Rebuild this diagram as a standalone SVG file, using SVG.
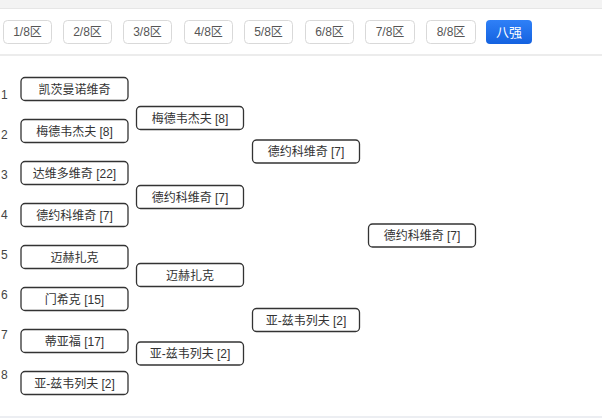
<svg xmlns="http://www.w3.org/2000/svg" width="602" height="418" viewBox="0 0 602 418">
<defs>
<linearGradient id="blue" x1="0" y1="0" x2="0" y2="1">
<stop offset="0" stop-color="#2f80f7"/>
<stop offset="1" stop-color="#1462e0"/>
</linearGradient>
</defs>
<style>
text{font-family:"Liberation Sans","Noto Sans CJK SC",sans-serif;font-size:12px}
.tab rect{fill:#fff;stroke:#d9d9d9;stroke-width:1}
.tab text{fill:#555;text-anchor:middle}
.node rect{fill:#fff;stroke:#333;stroke-width:1.3}
.node text{fill:#333;text-anchor:middle}
.num{fill:#444}
</style>
<rect x="0" y="0" width="602" height="418" fill="#fff"/>
<rect x="0" y="0" width="602" height="8" fill="#f3f3f3"/>
<line x1="0" y1="8.5" x2="602" y2="8.5" stroke="#e6e6e6"/>
<rect x="0" y="54" width="602" height="2" fill="#ececec"/>
<rect x="0" y="416" width="602" height="2" fill="#eceef2"/>

<g id="tabs">
<g class="tab" id="tab1"><rect x="3.5" y="20.5" width="48" height="23" rx="4"/><text x="27.5" y="36">1/8区</text></g>
<g class="tab" id="tab2"><rect x="63.5" y="20.5" width="48" height="23" rx="4"/><text x="87.5" y="36">2/8区</text></g>
<g class="tab" id="tab3"><rect x="123.5" y="20.5" width="48" height="23" rx="4"/><text x="147.5" y="36">3/8区</text></g>
<g class="tab" id="tab4"><rect x="184.5" y="20.5" width="48" height="23" rx="4"/><text x="208.5" y="36">4/8区</text></g>
<g class="tab" id="tab5"><rect x="244.5" y="20.5" width="48" height="23" rx="4"/><text x="268.5" y="36">5/8区</text></g>
<g class="tab" id="tab6"><rect x="305.5" y="20.5" width="48" height="23" rx="4"/><text x="329.5" y="36">6/8区</text></g>
<g class="tab" id="tab7"><rect x="365.5" y="20.5" width="49" height="23" rx="4"/><text x="390" y="36">7/8区</text></g>
<g class="tab" id="tab8"><rect x="426.5" y="20.5" width="49" height="23" rx="4"/><text x="451" y="36">8/8区</text></g>
<g id="tab-final"><rect x="486" y="20" width="46" height="24" rx="4" fill="url(#blue)"/><text x="509" y="36.5" fill="#fff" text-anchor="middle" style="font-size:13px">八强</text></g>
</g>

<g id="seeds">
<text class="num" x="1" y="99">1</text>
<text class="num" x="1" y="139">2</text>
<text class="num" x="1" y="179">3</text>
<text class="num" x="1" y="219">4</text>
<text class="num" x="1" y="259">5</text>
<text class="num" x="1" y="299">6</text>
<text class="num" x="1" y="339">7</text>
<text class="num" x="1" y="379">8</text>
</g>

<g id="connectors"></g>

<g class="node" id="r1-1"><rect x="21" y="77.5" width="107" height="23" rx="4"/><text x="74.5" y="93.5">凯茨曼诺维奇</text></g>
<g class="node" id="r1-2"><rect x="21" y="119.5" width="107" height="23" rx="4"/><text x="74.5" y="135.5">梅德韦杰夫 [8]</text></g>
<g class="node" id="r1-3"><rect x="21" y="161.5" width="107" height="23" rx="4"/><text x="74.5" y="177.5">达维多维奇 [22]</text></g>
<g class="node" id="r1-4"><rect x="21" y="203.5" width="107" height="23" rx="4"/><text x="74.5" y="219.5">德约科维奇 [7]</text></g>
<g class="node" id="r1-5"><rect x="21" y="245.5" width="107" height="23" rx="4"/><text x="74.5" y="261.5">迈赫扎克</text></g>
<g class="node" id="r1-6"><rect x="21" y="287.5" width="107" height="23" rx="4"/><text x="74.5" y="303.5">门希克 [15]</text></g>
<g class="node" id="r1-7"><rect x="21" y="329.5" width="107" height="23" rx="4"/><text x="74.5" y="345.5">蒂亚福 [17]</text></g>
<g class="node" id="r1-8"><rect x="21" y="371.5" width="107" height="23" rx="4"/><text x="74.5" y="387.5">亚-兹韦列夫 [2]</text></g>

<g class="node" id="r2-1"><rect x="136.5" y="106.5" width="107" height="23" rx="4"/><text x="190" y="122.5">梅德韦杰夫 [8]</text></g>
<g class="node" id="r2-2"><rect x="136.5" y="185.5" width="107" height="23" rx="4"/><text x="190" y="201.5">德约科维奇 [7]</text></g>
<g class="node" id="r2-3"><rect x="136.5" y="263.5" width="107" height="23" rx="4"/><text x="190" y="279.5">迈赫扎克</text></g>
<g class="node" id="r2-4"><rect x="136.5" y="342" width="107" height="23" rx="4"/><text x="190" y="358">亚-兹韦列夫 [2]</text></g>

<g class="node" id="r3-1"><rect x="252.5" y="140" width="107" height="23" rx="4"/><text x="306" y="156">德约科维奇 [7]</text></g>
<g class="node" id="r3-2"><rect x="252.5" y="308.5" width="107" height="23" rx="4"/><text x="306" y="324.5">亚-兹韦列夫 [2]</text></g>

<g class="node" id="r4-1"><rect x="368.5" y="224" width="107" height="23" rx="4"/><text x="422" y="240">德约科维奇 [7]</text></g>
</svg>
